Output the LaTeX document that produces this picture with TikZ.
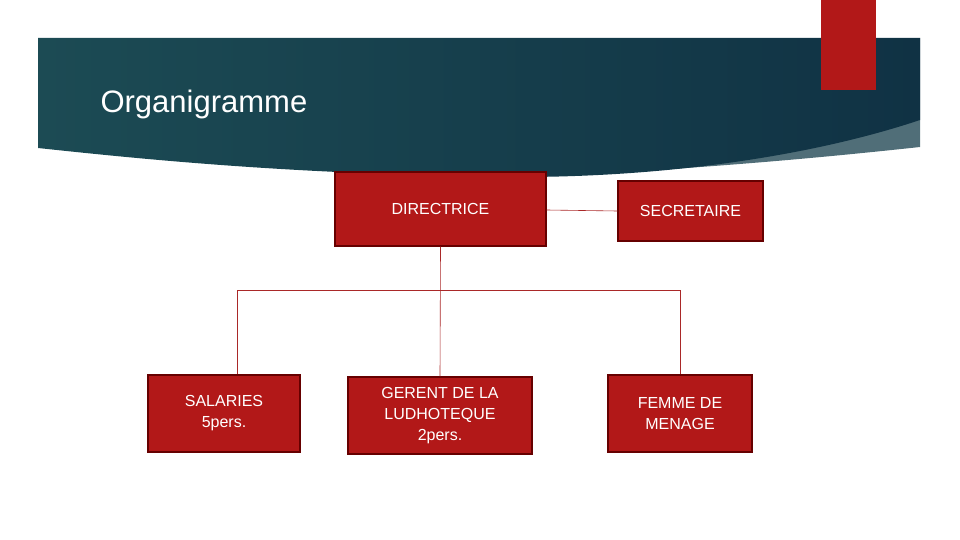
\documentclass[tikz,border=0pt]{standalone}
\usepackage{fontspec}
\setmainfont{Liberation Sans}
\definecolor{tdark}{RGB}{16,50,68}
\definecolor{tleft}{RGB}{28,75,84}
\definecolor{tmid}{RGB}{62,120,112}
\definecolor{tlight}{RGB}{80,110,120}
\definecolor{bred}{RGB}{178,24,24}
\definecolor{lred}{RGB}{170,40,40}
\begin{document}
\begin{tikzpicture}[x=1pt,y=-1pt,
  box/.style={draw=red!40!black,line width=1.2pt,fill=bred,text=white,font=\fontsize{16}{21}\selectfont,align=center,inner sep=0pt},
  conn/.style={draw=lred,line width=0.6pt}]
\useasboundingbox (0,0) rectangle (960,540);
% light strip
\fill[tlight] (920,38) -- (920,147) .. controls (800,160) and (700,168) .. (560,176) -- (560,100) -- cycle;
% dark band
\shade[left color=tleft, middle color=tmid, right color=tdark]
  (38,38) -- (920,38) -- (920,120) .. controls (800,160) and (650,177) .. (520,177)
  .. controls (300,175) and (150,160) .. (38,148) -- cycle;
\fill[bred] (821,0) rectangle (876,90);
\node[text=white,font=\fontsize{31}{36}\selectfont,anchor=west] (title) at (97,104) {Organigramme};
\node[box,minimum width=211,minimum height=74] (dir) at (440.5,209) {DIRECTRICE};
\node[box,minimum width=145,minimum height=60] (sec) at (690.5,211) {SECRETAIRE};
\node[box,minimum width=152,minimum height=77] (sal) at (224,413.5) {SALARIES\\5pers.};
\node[box,minimum width=184,minimum height=77] (ger) at (440,415.5) {GERENT DE LA\\LUDHOTEQUE\\2pers.};
\node[box,minimum width=144,minimum height=77] (fem) at (680,413.5) {FEMME DE\\MENAGE};
\coordinate (hl) at (237,290);
\coordinate (hr) at (680,290);
\draw[conn] (dir.east) ++(0,1) -- (sec.west);
\draw[conn] (dir.south) -- (ger.north);
\draw[conn] (hl |- sal.north) -- (hl) -- (hr) -- (fem.north);
\end{tikzpicture}
\end{document}
